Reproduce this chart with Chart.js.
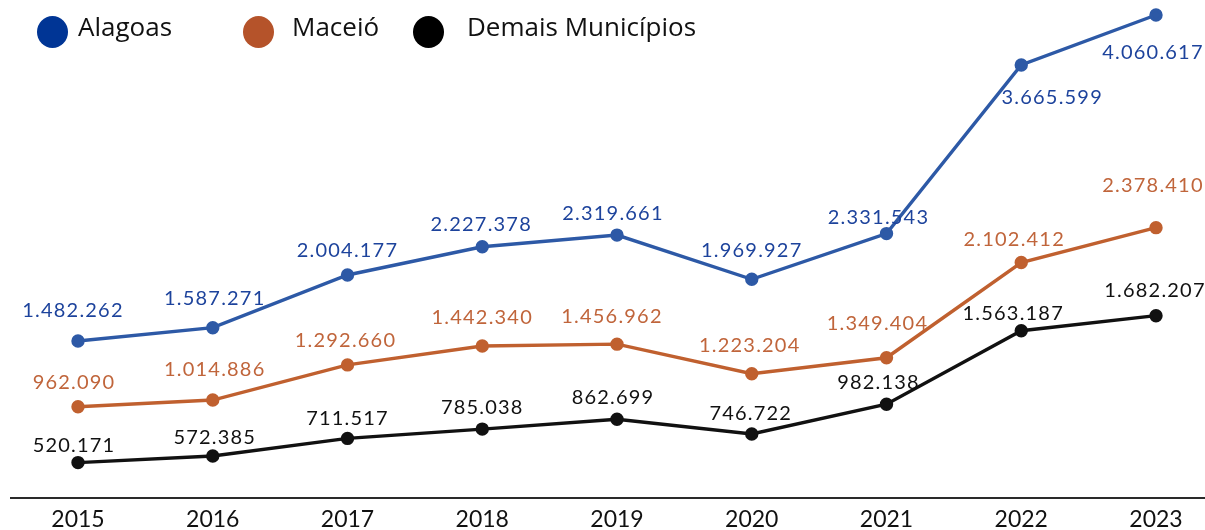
<!DOCTYPE html>
<html lang="pt-BR">
<head>
<meta charset="utf-8">
<script src="https://cdn.jsdelivr.net/npm/chart.js@4"></script>
<style>
  html, body { margin: 0; padding: 0; background: #fff; }
  #wrap { position: relative; width: 1205px; height: 530px; overflow: hidden; }
  canvas { position: absolute; left: 0; top: 0; }
  .legend-dot { position: absolute; width: 31px; height: 32px; border-radius: 50%; top: 16px; }
  .legend-text { position: absolute; top: 8px; white-space: nowrap;
    font-family: "Open Sans", sans-serif; font-size: 26px; color: #111; }
</style>
</head>
<body>
<div id="wrap">
  <canvas id="chart" width="1205" height="530"></canvas>
  <div id="legend"></div>
</div>
<script>
// Anos e totais por série
const years = ['2015', '2016', '2017', '2018', '2019', '2020', '2021', '2022', '2023'];
const alagoas = [1482262, 1587271, 2004177, 2227378, 2319661, 1969927, 2331543, 3665599, 4060617];
const maceio = [962090, 1014886, 1292660, 1442340, 1456962, 1223204, 1349404, 2102412, 2378410];
const demais = [520171, 572385, 711517, 785038, 862699, 746722, 982138, 1563187, 1682207];

const seriesNames = ['Alagoas', 'Maceió', 'Demais Municípios'];
const lineColors = ['#2D59A6', '#C0602F', '#111111'];
const labelColors = ['#1D439C', '#C0653B', '#111111'];
const legendColors = ['#003595', '#B5532A', '#000000'];

// Deslocamento [dx, dy] de cada rótulo em relação ao seu ponto
const labelNudges = [
  [[-5, -30], [2, -29], [0, -24], [-1, -22], [-4, -22], [0, -29], [-8, -16], [31, 33], [-3, 38]],
  [[-4, -24], [2, -30], [-2, -24], [0, -28], [-5, -28], [-2, -28], [-9, -34], [-7, -23], [-3, -42]],
  [[-4, -17], [2, -18], [0, -20], [0, -22], [-4, -22], [-1, -20], [-8, -22], [-8, -17], [-1, -25]]
];

const fmt = new Intl.NumberFormat('pt-BR');

// Rótulos de valor desenhados a partir dos próprios dados
const valueLabels = {
  id: 'valueLabels',
  afterDatasetsDraw(chart) {
    const ctx = chart.ctx;
    ctx.save();
    ctx.font = '20px Lato, sans-serif';
    ctx.letterSpacing = '1.2px';
    ctx.textAlign = 'center';
    ctx.textBaseline = 'middle';
    chart.data.datasets.forEach((ds, i) => {
      const meta = chart.getDatasetMeta(i);
      ctx.fillStyle = labelColors[i];
      meta.data.forEach((pt, j) => {
        const [dx, dy] = labelNudges[i][j];
        ctx.fillText(fmt.format(ds.data[j]), pt.x + dx, pt.y + dy);
      });
    });
    ctx.restore();
  }
};

// Linha de base sob o eixo das categorias
const baseline = {
  id: 'baseline',
  beforeDatasetsDraw(chart) {
    const ctx = chart.ctx;
    const y = chart.chartArea.bottom;
    ctx.save();
    ctx.strokeStyle = '#2a2a2a';
    ctx.lineWidth = 2;
    ctx.beginPath();
    ctx.moveTo(10, y);
    ctx.lineTo(chart.width, y);
    ctx.stroke();
    ctx.restore();
  }
};

const makeSet = (label, data, i) => ({
  label, data,
  borderColor: lineColors[i],
  backgroundColor: lineColors[i],
  borderWidth: 3.4,
  pointRadius: 5,
  pointHoverRadius: 5,
  tension: 0,
  fill: false,
  clip: false
});

new Chart(document.getElementById('chart'), {
  type: 'line',
  data: {
    labels: years,
    datasets: [
      makeSet(seriesNames[0], alagoas, 0),
      makeSet(seriesNames[1], maceio, 1),
      makeSet(seriesNames[2], demais, 2)
    ]
  },
  options: {
    responsive: false,
    animation: false,
    events: [],
    layout: { padding: { left: 78, right: 49, top: 15, bottom: 0 } },
    plugins: { legend: { display: false }, tooltip: { enabled: false } },
    scales: {
      x: {
        offset: false,
        grid: { display: false, drawTicks: false },
        border: { display: false },
        ticks: { color: '#111', font: { family: 'Lato', size: 23 }, padding: 8, maxRotation: 0, autoSkip: false },
        afterFit(scale) { scale.height = 32; }
      },
      y: {
        display: false,
        min: 240000,
        max: 4060617
      }
    }
  },
  plugins: [baseline, valueLabels]
});

// Legenda em HTML
const legendPos = [[37, 78], [243, 292], [413, 467]];
const legend = document.getElementById('legend');
seriesNames.forEach((name, i) => {
  const dot = document.createElement('div');
  dot.className = 'legend-dot';
  dot.style.left = legendPos[i][0] + 'px';
  dot.style.background = legendColors[i];
  const txt = document.createElement('div');
  txt.className = 'legend-text';
  txt.style.left = legendPos[i][1] + 'px';
  txt.textContent = name;
  legend.appendChild(dot);
  legend.appendChild(txt);
});
</script>
</body>
</html>
